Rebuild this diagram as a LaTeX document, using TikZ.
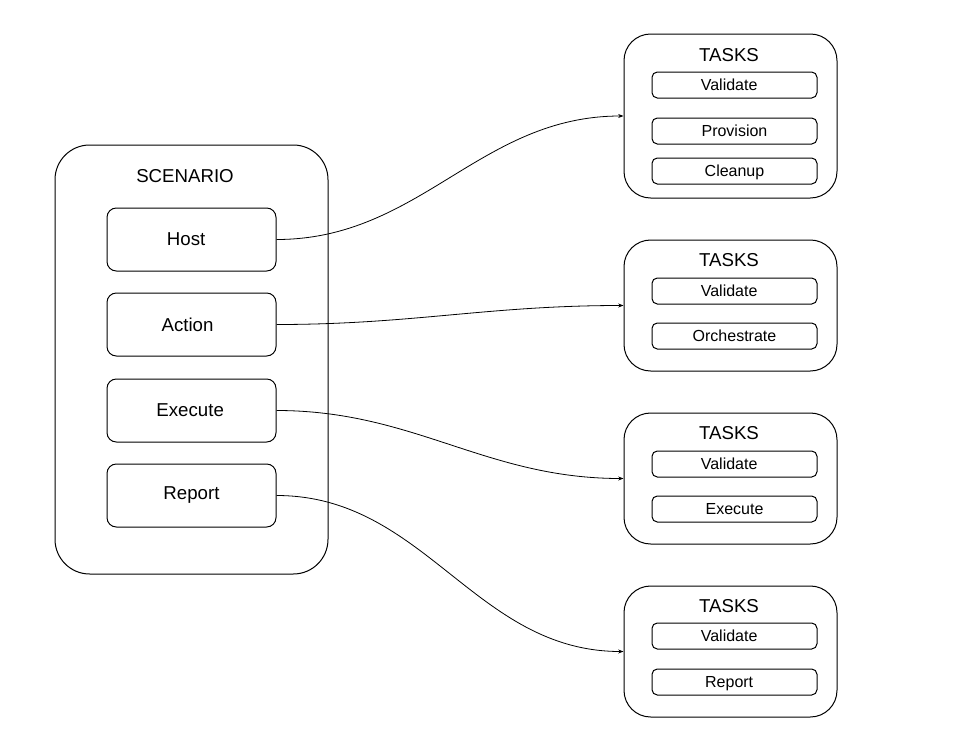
\documentclass[tikz,border=0pt]{standalone}
\usepackage{fontspec}
\setmainfont{Liberation Sans}
\usetikzlibrary{arrows.meta,positioning}

\begin{document}
\begin{tikzpicture}[
    x=0.75pt, y=-0.75pt,
    line width=0.75pt,
    font=\fontsize{14}{16}\selectfont,
    scenbox/.style={draw, rounded corners=26pt, minimum width=204.75pt,
                    minimum height=321.75pt},
    stage/.style={draw, rounded corners=7pt, minimum width=126.75pt,
                  minimum height=47.25pt},
    taskbox/.style={draw, rounded corners=20pt, minimum width=159.75pt},
    task/.style={draw, rounded corners=4pt, minimum width=123.75pt,
                 minimum height=19.5pt, inner sep=0pt, text height=10pt,
                 text depth=2pt, font=\fontsize{12}{14}\selectfont},
    title/.style={font=\fontsize{14}{16}\selectfont},
    link/.style={-{Stealth[length=4pt, width=3pt]}, line width=0.6pt},
  ]
  \useasboundingbox (0,0) rectangle (961,732);

  % Scenario
  \node[scenbox] (scen) at (191.5,359.5) {};
  \node (scentitle) at (185,176) {SCENARIO};
  \node[stage] (host) at (191.5,239.5) {\hspace*{-8pt}Host};
  \node[stage] (action) at (191.5,324.5) {\hspace*{-6pt}Action};
  \node[stage] (execute) at (191.5,410.5) {\hspace*{-2pt}Execute};
  \node[stage] (report) at (191.5,495.5) {Report};

  % Tasks for host
  \node[taskbox, minimum height=123pt] (hosttasks) at (730.5,116) {};
  \node[title] (hosttitle) at (729,55) {TASKS};
  \node[task] (hostval) at (734.5,85) {\hspace*{-8pt}Validate};
  \node[task] (hostprov) at (734.5,131) {Provision};
  \node[task] (hostclean) at (734.5,171) {Cleanup};

  % Tasks for action
  \node[taskbox, minimum height=98.25pt] (acttasks) at (730.5,305.5) {};
  \node[title] (acttitle) at (729,260) {TASKS};
  \node[task] (actval) at (734.5,291) {\hspace*{-8pt}Validate};
  \node[task] (actorch) at (734.5,336) {Orchestrate};

  % Tasks for execute
  \node[taskbox, minimum height=98.25pt] (exectasks) at (730.5,478.5) {};
  \node[title] (exectitle) at (729,433) {TASKS};
  \node[task] (execval) at (734.5,464) {\hspace*{-8pt}Validate};
  \node[task] (execexec) at (734.5,509) {Execute};

  % Tasks for report
  \node[taskbox, minimum height=98.25pt] (reptasks) at (730.5,651.5) {};
  \node[title] (reptitle) at (729,606) {TASKS};
  \node[task] (repval) at (734.5,636) {\hspace*{-8pt}Validate};
  \node[task] (reprep) at (734.5,682) {\hspace*{-8pt}Report};

  % Links
  \draw[link] (host.east) to[out=0, in=180] (hosttasks.west);
  \draw[link] (action.east) to[out=0, in=180] (acttasks.west);
  \draw[link] (execute.east) to[out=0, in=180] (exectasks.west);
  \draw[link] (report.east) to[out=0, in=180] (reptasks.west);

\end{tikzpicture}
\end{document}
